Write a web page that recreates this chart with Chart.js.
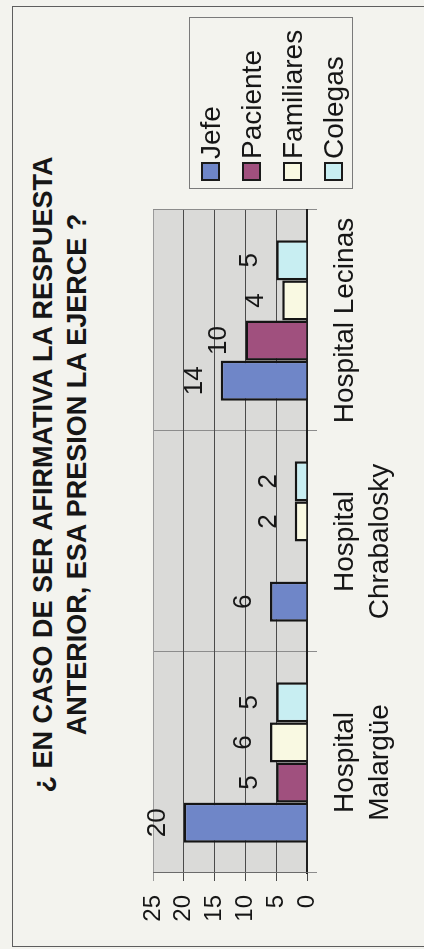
<!DOCTYPE html>
<html lang="es">
<head>
<meta charset="utf-8">
<title>¿En caso de ser afirmativa la respuesta anterior, esa presión la ejerce?</title>
<script src="https://cdn.jsdelivr.net/npm/chart.js@4/dist/chart.umd.min.js"></script>
<style>
    html, body {
        margin: 0;
        padding: 0;
        width: 424px;
        height: 949px;
        overflow: hidden;
        background: #f3f3ee;
        font-family: "Liberation Sans", Arial, sans-serif;
        color: #161616;
    }
    /* El gráfico original es apaisado (949x424) y la hoja está girada 90° */
    #hoja {
        position: absolute;
        left: 0;
        top: 0;
        width: 949px;
        height: 424px;
        overflow: hidden;
        transform-origin: 0 0;
        transform: translate(0, 949px) rotate(-90deg);
    }
    #marco {
        position: absolute;
        left: 2px;
        top: 12px;
        width: 939px;
        height: 500px;
        border: 1.5px solid #5e5e5e;
    }
    #titulo {
        position: absolute;
        left: 0;
        top: 26px;
        width: 949px;
        text-align: center;
        font-weight: bold;
        font-size: 27px;
        line-height: 34px;
    }
    #grafico {
        position: absolute;
        left: 0;
        top: 0;
    }
    #leyenda {
        position: absolute;
        left: 760px;
        top: 189px;
        width: 172px;
        height: 164px;
        border: 1px solid #7a7a7a;
        box-sizing: border-box;
    }
    #leyenda .item {
        display: flex;
        align-items: center;
        height: 41px;
        font-size: 28px;
        white-space: nowrap;
    }
    #leyenda .marca {
        width: 15px;
        height: 15px;
        border: 2px solid #1a1a1a;
        margin-left: 7px;
        margin-right: 3px;
        flex: none;
    }
</style>
</head>
<body>
<div id="hoja">
    <div id="marco"></div>
    <div id="titulo">¿ EN CASO DE SER AFIRMATIVA LA RESPUESTA<br>ANTERIOR, ESA PRESION LA EJERCE ?</div>
    <canvas id="grafico" width="949" height="424"></canvas>
    <div id="leyenda"></div>
</div>

<script>
// Datos
const categorias = [['Hospital', 'Malargüe'], ['Hospital', 'Chrabalosky'], 'Hospital Lecinas'];
const series = ['Jefe', 'Paciente', 'Familiares', 'Colegas'];
const jefe = [20, 6, 14];
const paciente = [5, null, 10];
const familiares = [6, 2, 4];
const colegas = [5, 2, 5];
const ticksValor = [0, 5, 10, 15, 20, 25];

// Estilos
const colores = ['#6f86c8', '#a0507e', '#f9f9e2', '#c8eef2'];
const fuente = '"Liberation Sans", Arial, sans-serif';

/**
 * Fondo gris del área de trazado
 */
const fondoArea = {
    id: 'fondoArea',
    beforeDraw(chart) {
        const { ctx, chartArea } = chart;
        ctx.save();
        ctx.fillStyle = '#dadad8';
        ctx.fillRect(chartArea.left, chartArea.top, chartArea.right - chartArea.left, chartArea.bottom - chartArea.top);
        ctx.restore();
    }
};

/**
 * Etiquetas con el valor encima de cada barra
 */
const etiquetasValor = {
    id: 'etiquetasValor',
    afterDatasetsDraw(chart) {
        const ctx = chart.ctx;
        ctx.save();
        ctx.font = '26px ' + fuente;
        ctx.fillStyle = '#161616';
        ctx.textAlign = 'center';
        ctx.textBaseline = 'alphabetic';
        chart.data.datasets.forEach((ds, i) => {
            chart.getDatasetMeta(i).data.forEach((barra, j) => {
                const valor = ds.data[j];
                if (valor === null || valor === undefined) return;
                ctx.fillText(String(valor), barra.x, barra.y - 19);
            });
        });
        ctx.restore();
    }
};

const valores = [jefe, paciente, familiares, colegas];

const datasets = series.map((nombre, i) => ({
    label: nombre,
    data: valores[i],
    backgroundColor: colores[i],
    borderColor: '#151515',
    borderWidth: 2.5,
    barPercentage: 1,
    categoryPercentage: 0.726
}));

const canvas = document.getElementById('grafico');
const grafico = new Chart(canvas.getContext('2d'), {
    type: 'bar',
    data: {
        labels: categorias,
        datasets: datasets
    },
    options: {
        responsive: false,
        animation: false,
        layout: {
            padding: { left: 0, right: 210, top: 153, bottom: 0 }
        },
        plugins: {
            legend: { display: false },
            title: { display: false },
            tooltip: { enabled: false }
        },
        scales: {
            x: {
                grid: {
                    color: '#8c8c8c',
                    lineWidth: 1,
                    tickLength: 10,
                    offset: true
                },
                border: { color: '#1e1e1e', width: 2 },
                ticks: {
                    font: { size: 28, family: fuente, lineHeight: 1.28 },
                    color: '#161616',
                    padding: 10,
                    maxRotation: 0,
                    autoSkip: false
                },
                afterFit(scale) {
                    scale.height = 424 - 307;
                }
            },
            y: {
                min: 0,
                max: 25,
                afterBuildTicks(scale) {
                    scale.ticks = ticksValor.map(v => ({ value: v }));
                },
                grid: {
                    color: (c) => (c.tick && c.tick.value === 25) ? '#9a9a9a' : '#4a4a4a',
                    lineWidth: 1,
                    tickLength: 8
                },
                border: { color: '#6a6a6a', width: 1 },
                ticks: {
                    font: { size: 24, family: fuente },
                    color: '#161616',
                    padding: 14,
                    autoSkip: false
                },
                afterFit(scale) {
                    scale.width = 76;
                }
            }
        }
    },
    plugins: [fondoArea, etiquetasValor]
});

// Leyenda HTML a partir de las series
const leyenda = document.getElementById('leyenda');
series.forEach((nombre, i) => {
    const item = document.createElement('div');
    item.className = 'item';
    const marca = document.createElement('span');
    marca.className = 'marca';
    marca.style.background = colores[i];
    const texto = document.createElement('span');
    texto.textContent = nombre;
    item.appendChild(marca);
    item.appendChild(texto);
    leyenda.appendChild(item);
});
</script>
</body>
</html>
